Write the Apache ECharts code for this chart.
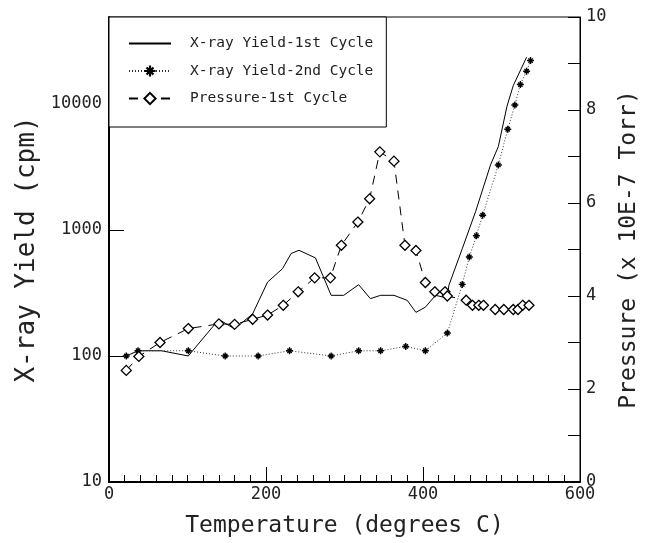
<!DOCTYPE html>
<html><head><meta charset="utf-8">
<script src="https://cdn.jsdelivr.net/npm/echarts@6/dist/echarts.min.js"></script>
<style>html,body{margin:0;padding:0;background:#fff}#c{width:650px;height:543px}</style>
</head><body><div id="c"></div>
<script>
// X-ray Yield - 1st Cycle (temperature °C, cpm)
const temp1 = [22, 37, 67, 101, 140, 160, 183, 202, 221, 232, 242, 263, 283, 299, 318, 333, 346, 363, 380, 391, 403, 416, 431, 433, 450, 467, 486, 496, 507, 515, 532];
const yield1 = [100, 110, 110, 100, 195, 164, 216, 386, 493, 650, 690, 600, 303, 303, 368, 285, 303, 303, 276, 222, 244, 303, 288, 364, 710, 1400, 3280, 4600, 9600, 14000, 23500];
// X-ray Yield - 2nd Cycle
const temp2 = [22, 37, 101, 148, 190, 230, 283, 318, 346, 378, 403, 431, 450, 459, 468, 476, 496, 508, 517, 524, 532, 537];
const yield2 = [100, 110, 110, 100, 100, 110, 100, 110, 110, 119, 110, 152, 370, 610, 900, 1310, 3280, 6300, 9800, 14250, 18200, 22100];
// Pressure - 1st Cycle (x 10E-7 Torr)
const tempP = [22, 38, 65, 101, 140, 160, 183, 202, 222, 241, 262, 282, 296, 317, 332, 345, 363, 377, 391, 403, 415, 428, 431, 455, 463, 471, 477, 492, 503, 515, 521, 527, 535];
const pressure = [2.40, 2.70, 3.00, 3.30, 3.40, 3.39, 3.50, 3.59, 3.80, 4.09, 4.39, 4.39, 5.09, 5.59, 6.09, 7.10, 6.90, 5.09, 4.98, 4.29, 4.09, 4.09, 4.00, 3.91, 3.80, 3.80, 3.80, 3.71, 3.71, 3.71, 3.71, 3.80, 3.80];
const xTicks = [0, 200, 400, 600];
const yLogTicks = [10, 100, 1000, 10000];
const pTicks = [0, 2, 4, 6, 8, 10];

const zip = (a, b) => a.map((v, i) => [v, b[i]]);
const STAR = 'path://M0,4 L10,4 L10,6 L0,6 Z M4,0 L6,0 L6,10 L4,10 Z M1.2,2.6 L2.6,1.2 L8.8,7.4 L7.4,8.8 Z M7.4,1.2 L8.8,2.6 L2.6,8.8 L1.2,7.4 Z';
const MONO = '"DejaVu Sans Mono", "Liberation Mono", monospace';
const TXT = '#222';

const chart = echarts.init(document.getElementById('c'), null, {renderer: 'canvas'});
chart.setOption({
  animation: false,
  backgroundColor: '#fff',
  grid: {left: 109, right: 70, top: 17, bottom: 60, show: true, borderColor: '#000', borderWidth: 1},
  legend: {
    orient: 'vertical', left: 109, top: 17,
    padding: [19, 13, 21, 19], itemGap: 12.5, itemWidth: 42, itemHeight: 14,
    borderColor: '#000', borderWidth: 1, backgroundColor: '#fff',
    textStyle: {fontFamily: MONO, fontSize: 14.5, color: TXT, padding: [0, 0, 0, 14], lineHeight: 14},
    data: ['X-ray Yield-1st Cycle', 'X-ray Yield-2nd Cycle', 'Pressure-1st Cycle']
  },
  xAxis: {
    type: 'value', min: xTicks[0], max: xTicks[xTicks.length - 1], interval: 200,
    name: 'Temperature (degrees C)', nameLocation: 'middle', nameGap: 33,
    nameTextStyle: {fontFamily: MONO, fontSize: 23, color: TXT},
    axisLine: {lineStyle: {color: '#000', width: 2}},
    axisTick: {inside: true, length: 15, lineStyle: {color: '#000'}},
    minorTick: {show: true, splitNumber: 10, length: 7, lineStyle: {color: '#000'}},
    axisLabel: {fontFamily: MONO, fontSize: 17, color: TXT, margin: 4},
    splitLine: {show: false}
  },
  yAxis: [{
    type: 'log', logBase: 10, min: yLogTicks[0], max: 48978,
    name: 'X-ray Yield (cpm)', nameLocation: 'middle', nameGap: 58, nameRotate: 90,
    nameTextStyle: {fontFamily: MONO, fontSize: 26, color: TXT},
    axisLine: {show: true, lineStyle: {color: '#000', width: 2}},
    axisTick: {inside: true, length: 15, lineStyle: {color: '#000'}},
    axisLabel: {fontFamily: MONO, fontSize: 17, color: TXT, margin: 7, showMaxLabel: false,
      formatter: v => String(Math.round(v))},
    splitLine: {show: false}
  }, {
    type: 'value', min: pTicks[0], max: pTicks[pTicks.length - 1], interval: 2, position: 'right',
    name: 'Pressure (x 10E-7 Torr)', nameLocation: 'middle', nameGap: 32, nameRotate: 90,
    nameTextStyle: {fontFamily: MONO, fontSize: 23, color: TXT},
    axisLine: {show: true, lineStyle: {color: '#000', width: 1}},
    axisTick: {inside: true, length: 12, lineStyle: {color: '#000'}},
    minorTick: {show: true, splitNumber: 2, length: 12, lineStyle: {color: '#000'}},
    axisLabel: {fontFamily: MONO, fontSize: 17, color: TXT, margin: 6},
    splitLine: {show: false}
  }],
  series: [{
    name: 'X-ray Yield-1st Cycle', type: 'line', yAxisIndex: 0,
    data: zip(temp1, yield1), symbol: 'circle', showSymbol: false,
    lineStyle: {color: '#000', width: 1, type: 'solid'}, itemStyle: {color: 'rgba(0,0,0,0)'}
  }, {
    name: 'X-ray Yield-2nd Cycle', type: 'line', yAxisIndex: 0,
    data: zip(temp2, yield2), symbol: STAR, symbolSize: 7,
    lineStyle: {color: '#333', width: 1, type: [1, 2]}, itemStyle: {color: '#000'}
  }, {
    name: 'Pressure-1st Cycle', type: 'line', yAxisIndex: 1,
    data: zip(tempP, pressure), symbol: 'diamond', symbolSize: [10, 10], showAllSymbol: true,
    lineStyle: {color: '#000', width: 1, type: [9, 7]},
    itemStyle: {color: '#fff', borderColor: '#000', borderWidth: 1.3}
  }]
});
</script>
</body></html>
